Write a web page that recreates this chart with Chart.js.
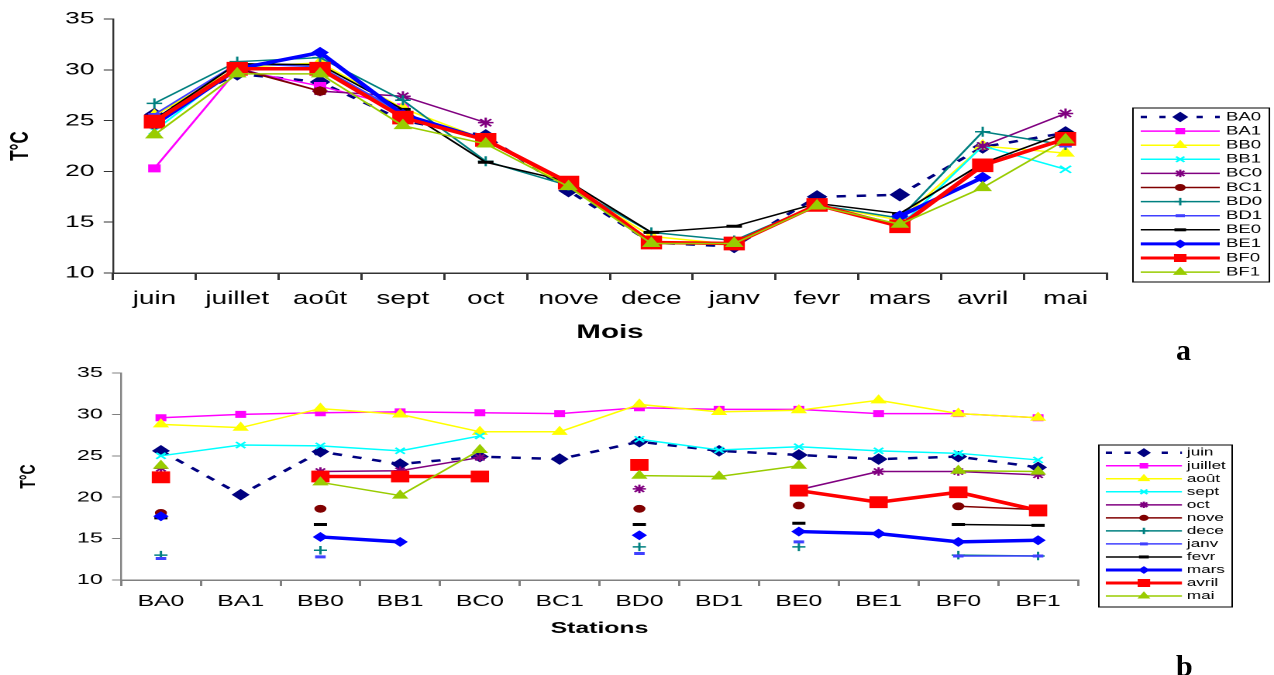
<!DOCTYPE html>
<html>
<head>
<meta charset="utf-8">
<script src="https://cdn.jsdelivr.net/npm/chart.js@4.4.0/dist/chart.umd.min.js"></script>
<style>
  body { margin: 0; background: #fff; width: 1274px; height: 675px; overflow: hidden; position: relative; }
  canvas { position: absolute; left: 0; }
  .tag { position: absolute; font: bold 30px "Liberation Serif", "Times New Roman", serif; line-height: 30px; color: #000; }
</style>
</head>
<body>
<canvas id="top-chart" width="822" height="345" style="top:0; width:1274px; height:345px;"></canvas>
<canvas id="bot-chart" width="822" height="300" style="top:345px; width:1274px; height:300px;"></canvas>
<div class="tag" style="left:1176px; top:335px;">a</div>
<div class="tag" style="left:1176px; top:651px;">b</div>
<script>
const stations = ["BA0", "BA1", "BB0", "BB1", "BC0", "BC1", "BD0", "BD1", "BE0", "BE1", "BF0", "BF1"];
const months = ["juin", "juillet", "août", "sept", "oct", "nove", "dece", "janv", "fevr", "mars", "avril", "mai"];
const y_ticks = [10, 15, 20, 25, 30, 35];

// monthly temperature per station, same order as stations
const juin    = [25.6, 20.3, 25.5, 24.0, 24.9, 24.6, 26.7, 25.6, 25.1, 24.6, 24.9, 23.6];
const juillet = [29.6, 30.0, 30.2, 30.3, 30.2, 30.1, 30.8, 30.6, 30.6, 30.1, 30.1, 29.6];
const aout    = [28.8, 28.4, 30.7, 30.0, 27.9, 27.9, 31.2, 30.3, 30.5, 31.7, 30.1, 29.6];
const sept    = [25.0, 26.3, 26.2, 25.6, 27.4, null, 27.0, 25.7, 26.1, 25.6, 25.3, 24.5];
const oct     = [23.5, null, 23.1, 23.2, 24.8, null, 21.0, null, 20.9, 23.1, 23.1, 22.7];
const nove    = [18.1, null, 18.6, null, null, null, 18.6, null, 19.0, null, 18.9, 18.5];
const dece    = [13.0, null, 13.6, null, null, null, 14.0, null, 14.0, null, 13.0, 12.9];
const janv    = [12.6, null, 12.8, null, null, null, 13.2, null, 14.6, null, 12.9, 12.9];
const fevr    = [17.5, null, 16.7, null, null, null, 16.7, null, 16.85, null, 16.7, 16.6];
const mars    = [17.7, null, 15.2, 14.6, null, null, 15.4, null, 15.85, 15.6, 14.6, 14.8];
const avril   = [22.4, null, 22.5, 22.5, 22.5, null, 23.9, null, 20.8, 19.4, 20.6, 18.4];
const mai     = [23.8, null, 21.8, 20.2, 25.7, null, 22.6, 22.5, 23.8, null, 23.2, 23.1];

const month_rows = [juin, juillet, aout, sept, oct, nove, dece, janv, fevr, mars, avril, mai];
// one row per station for chart a
const station_rows = stations.map((s, i) => month_rows.map(r => r[i]));

// series look, shared by both charts (Excel default palette)
const colors  = ["#000080", "#FF00FF", "#FFFF00", "#00FFFF", "#800080", "#800000", "#008080", "#4040FF", "#000000", "#0000FF", "#FF0000", "#99CC00"];
const markers = ["rectRot", "rect", "triangle", "crossRot", "star", "circle", "cross", "line", "line", "rectRot", "rect", "triangle"];
const radii   = [6, 5, 6, 5, 5, 4, 5, 4, 5, 5, 9, 6];
const widths  = [2.5, 1.5, 1.5, 1.5, 1.5, 1.5, 1.5, 1.5, 1.5, 3.5, 3.5, 1.5];
const pt_widths = [1, 1, 1, 1.5, 1.5, 1, 1.5, 3, 3, 1, 1, 1];

const FONT = "'Liberation Sans', Arial, sans-serif";

function make_sets(labels, rows, sz) {
  return labels.map((lab, i) => ({
    label: lab,
    data: rows[i],
    borderColor: colors[i],
    backgroundColor: colors[i],
    pointBackgroundColor: colors[i],
    pointBorderColor: colors[i],
    borderWidth: widths[i],
    borderDash: i == 0 ? [6, 7] : [],
    pointStyle: markers[i],
    pointRadius: radii[i] * sz,
    pointHoverRadius: radii[i] * sz,
    pointBorderWidth: pt_widths[i],
    tension: 0,
    spanGaps: false,
    order: labels.length - 1 - i
  }));
}

// legend in a framed box, line sample with marker, like the spreadsheet one
const boxLegend = {
  id: "boxLegend",
  afterDraw(chart, args, o) {
    const ctx = chart.ctx;
    ctx.save();
    ctx.strokeStyle = "#000";
    ctx.lineWidth = 1;
    ctx.strokeRect(o.x, o.y, o.w, o.h);
    chart.data.datasets.forEach((ds, i) => {
      const y = o.first + i * o.step;
      ctx.strokeStyle = ds.borderColor;
      ctx.lineWidth = Math.min(ds.borderWidth, 3);
      ctx.setLineDash(ds.borderDash.length ? [4, 8] : []);
      ctx.beginPath();
      ctx.moveTo(o.x0, y);
      ctx.lineTo(o.x1, y);
      ctx.stroke();
      ctx.setLineDash([]);
      ctx.fillStyle = ds.pointBackgroundColor;
      ctx.strokeStyle = ds.pointBorderColor;
      ctx.lineWidth = ds.pointBorderWidth;
      Chart.helpers.drawPoint(ctx, {
        pointStyle: ds.pointStyle,
        radius: Math.min(ds.pointRadius * o.scale, 5),
        rotation: 0,
        borderWidth: ds.pointBorderWidth
      }, (o.x0 + o.x1) / 2, y);
      ctx.fillStyle = "#000";
      ctx.font = o.font;
      ctx.textBaseline = "middle";
      ctx.textAlign = "left";
      ctx.fillText(ds.label, o.tx, y);
    });
    ctx.restore();
  }
};

function axis_opts(o) {
  return {
    x: {
      type: "category",
      offset: true,
      grid: { display: true, drawOnChartArea: false, offset: true, tickLength: o.xTick, color: o.axisColor, lineWidth: 1.5 },
      border: { display: true, color: o.axisColor, width: 1.5 },
      ticks: { color: "#000", font: { family: FONT, size: o.xFont }, padding: o.xPad, maxRotation: 0, autoSkip: false },
      title: { display: true, text: o.xTitle, color: "#000", font: { family: FONT, size: o.xTitleFont, weight: "bold" }, padding: { top: 0, bottom: o.xTitlePad } },
      afterFit: s => { s.height = o.xHeight; }
    },
    y: {
      min: 10,
      max: 35,
      afterBuildTicks: s => { s.ticks = y_ticks.map(v => ({ value: v })); },
      grid: { display: true, drawOnChartArea: false, tickLength: o.yTick, color: o.axisColor, lineWidth: 1 },
      border: { display: true, color: o.axisColor, width: 1.2 },
      ticks: { color: "#000", font: { family: FONT, size: o.yFont }, padding: o.yPad },
      title: { display: true, text: "T°C", color: "#000", font: { family: FONT, size: o.yTitleFont, weight: "bold" }, padding: { top: o.yTitlePad, bottom: 0 } },
      afterFit: s => { s.width = o.yWidth; }
    }
  };
}

// chart a: one line per station over the months
new Chart(document.getElementById("top-chart"), {
  type: "line",
  data: { labels: months, datasets: make_sets(stations, station_rows, 1) },
  plugins: [boxLegend],
  options: {
    responsive: false,
    animation: false,
    devicePixelRatio: 2,
    layout: { padding: { left: 0, top: 19, right: 107.8, bottom: 0 } },
    plugins: {
      legend: { display: false },
      tooltip: { enabled: false },
      boxLegend: { x: 731, y: 108, w: 88, h: 174, first: 117, step: 14.1, x0: 736, x1: 787, tx: 791, scale: 0.75, font: "12px " + FONT }
    },
    scales: axis_opts({
      axisColor: "#333", xTick: 7, xFont: 18, xPad: 8, xTitle: "Mois", xTitleFont: 19, xTitlePad: 1, xHeight: 72,
      yTick: 6, yFont: 17, yPad: 6, yTitleFont: 17, yTitlePad: 3, yWidth: 72.9
    })
  }
});

// chart b: one line per month over the stations
new Chart(document.getElementById("bot-chart"), {
  type: "line",
  data: { labels: stations, datasets: make_sets(months, month_rows, 0.85) },
  plugins: [boxLegend],
  options: {
    responsive: false,
    animation: false,
    devicePixelRatio: 2,
    layout: { padding: { left: 0, top: 28, right: 126.5, bottom: 0 } },
    plugins: {
      legend: { display: false },
      tooltip: { enabled: false },
      boxLegend: { x: 709, y: 100, w: 86, h: 162, first: 107.7, step: 13.03, x0: 713.5, x1: 762.6, tx: 765.8, scale: 0.75, font: "11px " + FONT }
    },
    scales: axis_opts({
      axisColor: "#808080", xTick: 6, xFont: 16, xPad: 6, xTitle: "Stations", xTitleFont: 16, xTitlePad: 7, xHeight: 65,
      yTick: 5.8, yFont: 15, yPad: 6, yTitleFont: 14, yTitlePad: 10, yWidth: 78.1
    })
  }
});
</script>
</body>
</html>
